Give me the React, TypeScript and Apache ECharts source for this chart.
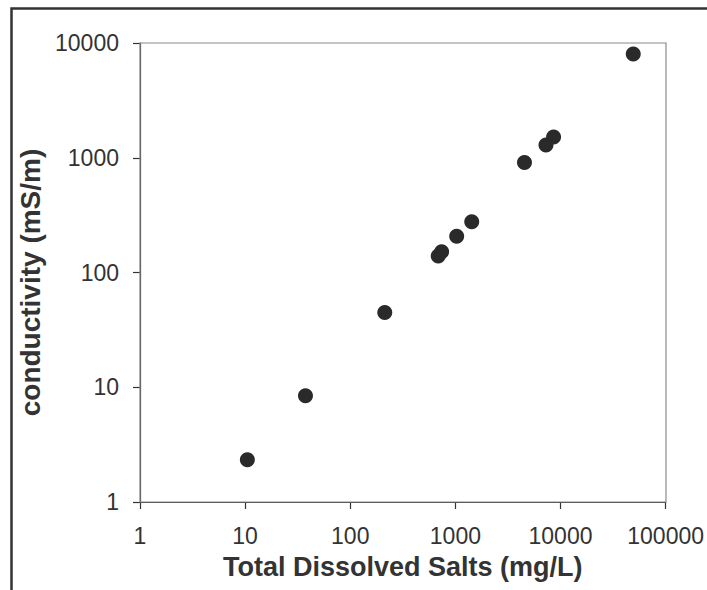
import React, { useEffect, useRef } from "react";
import * as echarts from "echarts";

const tdsValues = [10.5, 37.5, 213, 687, 740, 1029, 1431, 4543, 7275, 8593, 49200];
const conductivityValues = [2.33, 8.43, 44.8, 139, 152, 207, 277, 908, 1294, 1520, 8015];
const xTitle = "Total Dissolved Salts (mg/L)";
const yTitle = "conductivity (mS/m)";

const FONT = "'Liberation Sans', Arial, sans-serif";
const fmt = (v: number) => String(Math.round(v));

export default function App() {
  const ref = useRef<HTMLDivElement>(null);
  useEffect(() => {
    const chart = echarts.init(ref.current!, null, { renderer: "svg" });
    const data = tdsValues.map((x, i) => [x, conductivityValues[i]]);
    chart.setOption({
      animation: false,
      backgroundColor: "#ffffff",
      textStyle: { fontFamily: FONT },
      grid: { left: 140, right: 41, top: 43, bottom: 88, show: false },
      graphic: [
        {
          type: "rect",
          left: 9,
          top: 6,
          shape: { x: 0, y: 0, width: 760, height: 650 },
          style: { fill: "none", stroke: "#333333", lineWidth: 2.5 },
          silent: true,
          z: 100,
        },
        {
          type: "rect",
          shape: { x: 140, y: 43, width: 526, height: 459 },
          style: { fill: "none", stroke: "#8a8a8a", lineWidth: 1.2 },
          silent: true,
          z: 1,
        },
      ],
      xAxis: {
        type: "log",
        logBase: 10,
        min: 1,
        max: 100000,
        name: xTitle,
        nameLocation: "middle",
        nameGap: 51,
        nameTextStyle: { fontFamily: FONT, fontSize: 27, fontWeight: "bold", color: "#333333" },
        axisLine: { show: true, lineStyle: { color: "#333333", width: 1.2 } },
        axisTick: { show: true, inside: false, length: 7, lineStyle: { color: "#333333", width: 1.2 } },
        axisLabel: { formatter: fmt, fontFamily: FONT, fontSize: 23, color: "#333333", margin: 22 },
        splitLine: { show: false },
        minorTick: { show: false },
      },
      yAxis: {
        type: "log",
        logBase: 10,
        min: 1,
        max: 10000,
        name: yTitle,
        nameLocation: "middle",
        nameGap: 89,
        nameRotate: 90,
        nameTextStyle: {
          fontFamily: FONT,
          fontSize: 28,
          fontWeight: "bold",
          color: "#333333",
          padding: [0, 20, 0, 0],
        },
        axisLine: { show: true, lineStyle: { color: "#333333", width: 1.2 } },
        axisTick: { show: true, inside: false, length: 7, lineStyle: { color: "#333333", width: 1.2 } },
        axisLabel: { formatter: fmt, fontFamily: FONT, fontSize: 23, color: "#333333", margin: 21 },
        splitLine: { show: false },
      },
      series: [
        {
          type: "scatter",
          data,
          symbol: "circle",
          symbolSize: 15,
          itemStyle: { color: "#2a2a2a", opacity: 1 },
          z: 5,
        },
      ],
    });
    return () => chart.dispose();
  }, []);
  return (
    <div
      ref={ref}
      style={{ position: "fixed", left: 0, top: 0, width: 707, height: 590, background: "#fff" }}
    />
  );
}
